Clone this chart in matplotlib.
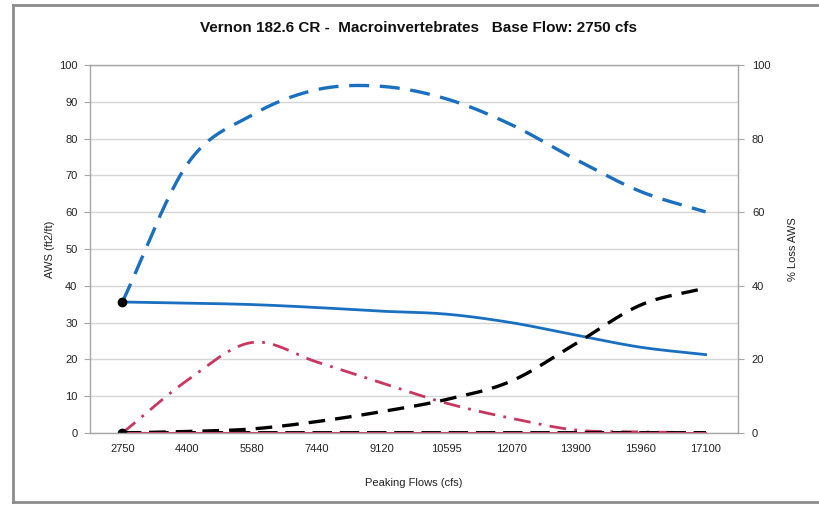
import numpy as np
import matplotlib
matplotlib.use("Agg")
import matplotlib.pyplot as plt
from matplotlib.lines import Line2D

plt.rcParams['font.family'] = ['Liberation Sans', 'DejaVu Sans']

categories = ['2750', '4400', '5580', '7440', '9120', '10595', '12070', '13900', '15960', '17100']
aws = [35.6, 35.3, 34.9, 34.1, 33.1, 32.3, 30.0, 26.6, 23.3, 21.3]
aws_alt = [35.6, 73.0, 86.4, 93.3, 94.2, 90.8, 83.8, 74.3, 65.6, 60.1]
loss_black = [0.0, 0.4, 1.1, 3.1, 5.8, 9.1, 14.1, 24.3, 34.8, 39.4]
loss_red = [0.0, 14.3, 24.6, 19.3, 13.6, 8.1, 4.0, 0.8, 0.3, 0.1]
zero_black = [0.0] * 10
zero_red = [0.0] * 10
left_ticks = list(range(0, 101, 10))
right_ticks = list(range(0, 101, 20))

title = 'Vernon 182.6 CR -  Macroinvertebrates   Base Flow: 2750 cfs'


def smooth(x, y, n=24):
    x = np.asarray(x, float)
    y = np.asarray(y, float)
    px = np.concatenate([[2 * x[0] - x[1]], x, [2 * x[-1] - x[-2]]])
    py = np.concatenate([[2 * y[0] - y[1]], y, [2 * y[-1] - y[-2]]])
    xs, ys = [], []
    for i in range(1, len(px) - 2):
        t = np.linspace(0, 1, n, endpoint=(i == len(px) - 3))
        p0, p1, p2, p3 = (np.array([px[j], py[j]]) for j in range(i - 1, i + 3))
        b1 = p1 + (p2 - p0) / 6.0
        b2 = p2 - (p3 - p1) / 6.0
        pts = ((1 - t) ** 3)[:, None] * p1 + (3 * (1 - t) ** 2 * t)[:, None] * b1 + \
              (3 * (1 - t) * t ** 2)[:, None] * b2 + (t ** 3)[:, None] * p2
        xs.append(pts[:, 0])
        ys.append(pts[:, 1])
    return np.concatenate(xs), np.concatenate(ys)


fig = plt.figure(figsize=(8.2, 5.05), dpi=100)
ax = fig.add_axes([90 / 820, 72 / 505, 648 / 820, 368 / 505])
x = np.arange(len(categories))

blue = '#1A6FC0'
red = '#C8375F'

ax.set_xlim(-0.5, len(categories) - 0.5)
ax.set_ylim(0, 100)
ax.set_yticks(left_ticks)
ax.yaxis.grid(True, color='#D6D6D6', linewidth=1.0)
ax.set_axisbelow(True)
for s in ax.spines.values():
    s.set_color('#A6A6A6')
    s.set_linewidth(1.0)

sx, sy = smooth(x, aws_alt)
ax.plot(sx, sy, color=blue, lw=2.4, dashes=(6, 3.2))
sx, sy = smooth(x, aws)
ax.plot(sx, sy, color=blue, lw=2.0)
sx, sy = smooth(x, loss_red)
ax.plot(sx, np.clip(sy, 0, None), color=red, lw=2.0, dashes=(6, 3, 1, 3))
sx, sy = smooth(x, loss_black)
ax.plot(sx, np.clip(sy, 0, None), color='black', lw=2.4, dashes=(5, 3))
ax.plot(x, zero_black, color='black', lw=2.8, dashes=(5, 2))
ax.plot(x, zero_red, color=red, lw=1.5)
ax.plot([x[0]], [aws[0]], 'o', color='black', ms=6)
ax.plot([x[0]], [zero_black[0]], 'o', color='black', ms=6)

ax.set_xticks(x)
ax.set_xticklabels(categories)
ax.tick_params(axis='x', length=0, labelsize=8, colors='#222222', pad=8)
ax.tick_params(axis='y', length=4, width=0.8, color='#A6A6A6', labelsize=8, labelcolor='#222222', pad=5)

ax2 = ax.twinx()
ax2.set_ylim(0, 100)
ax2.set_yticks(right_ticks)
ax2.tick_params(axis='y', length=4, width=0.8, color='#A6A6A6', labelsize=8, labelcolor='#222222', pad=6)
for s in ax2.spines.values():
    s.set_visible(False)

ax.set_ylabel('AWS (ft2/ft)', fontsize=8, color='#222222', labelpad=3)
ax2.set_ylabel('% Loss AWS', fontsize=8, color='#222222', labelpad=13, rotation=90)
ax.set_xlabel('Peaking Flows (cfs)', fontsize=8, color='#222222', labelpad=17)

fig.text(0.5 * (90 + 738) / 820 + 0.005, 1 - 28 / 505, title, ha='center', va='center',
         fontsize=11, fontweight='bold', color='#111111')

# outer chart frame
fig.add_artist(Line2D([13 / 820, 13 / 820], [1 - 5 / 505, 1 - 502 / 505], color='#8C8C8C', lw=2.0,
                      transform=fig.transFigure))
fig.add_artist(Line2D([13 / 820, 1.0], [1 - 5 / 505, 1 - 5 / 505], color='#8C8C8C', lw=2.0,
                      transform=fig.transFigure))
fig.add_artist(Line2D([13 / 820, 1.0], [1 - 502 / 505, 1 - 502 / 505], color='#8C8C8C', lw=2.0,
                      transform=fig.transFigure))

fig.savefig('out.png', dpi=100)
